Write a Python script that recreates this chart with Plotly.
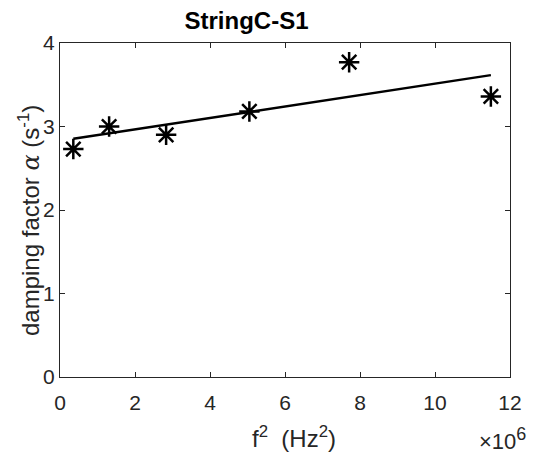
import numpy as np
import plotly.graph_objects as go

# data (x in Hz^2)
f2 = [0.355e6, 1.31e6, 2.83e6, 5.05e6, 7.71e6, 11.49e6]
alpha = [2.73, 3.00, 2.90, 3.18, 3.77, 3.36]
x_ticks = [0, 2e6, 4e6, 6e6, 8e6, 10e6, 12e6]
x_tick_labels = ["0", "2", "4", "6", "8", "10", "12"]
y_ticks = [0, 1, 2, 3, 4]

coef = np.polyfit(np.array(f2), np.array(alpha), 1)
fit_x = [min(f2), max(f2)]
fit_y = list(np.polyval(coef, fit_x))

FONT = "Liberation Sans, Arial, Helvetica, sans-serif"
AX = "#262626"
OFF = 8  # page body margin
W, H = 543 - OFF, 454 - OFF
PL, PR, PT, PB = 60, 510, 43.3, 376.7  # plot area in window pixels


def px_x(v):
    return (v - PL) / (PR - PL)


def px_y(v):
    return (PB - v) / (PB - PT)


fig = go.Figure()
fig.add_trace(go.Scatter(x=fit_x, y=fit_y, mode="lines",
                         line=dict(color="black", width=2.5), showlegend=False))
fig.add_trace(go.Scatter(x=f2, y=alpha, mode="markers",
                         marker=dict(symbol="asterisk-open", size=17, color="black",
                                     line=dict(color="black", width=2.5)),
                         showlegend=False))

fig.update_layout(
    width=W, height=H,
    margin=dict(l=PL - OFF, r=W - (PR - OFF), t=PT - OFF, b=H - (PB - OFF), autoexpand=False),
    paper_bgcolor="white", plot_bgcolor="white",
    font=dict(family=FONT, color=AX, size=21),
    title=dict(text="<b>StringC-S1</b>", font=dict(family=FONT, size=24, color="black"),
               x=(246.5 - OFF) / W, xanchor="center", xref="container",
               y=1 - (21 - OFF) / H, yanchor="middle", yref="container"),
    xaxis=dict(range=[0, 12e6], tickvals=x_ticks, ticktext=x_tick_labels,
               showline=True, linecolor=AX, linewidth=1, mirror="ticks",
               ticks="inside", ticklen=5, tickcolor=AX, showgrid=False, zeroline=False,
               tickfont=dict(size=21, color=AX), ticklabelstandoff=7),
    yaxis=dict(range=[0, 4], tickvals=y_ticks,
               showline=True, linecolor=AX, linewidth=1, mirror="ticks",
               ticks="inside", ticklen=5, tickcolor=AX, showgrid=False, zeroline=False,
               tickfont=dict(size=21, color=AX)),
)
fig.add_annotation(text="f<sup>2</sup>  (Hz<sup>2</sup>)", xref="paper", yref="paper",
                   x=px_x(294), y=px_y(437), xanchor="center", yanchor="middle",
                   showarrow=False, font=dict(size=24, color=AX))
fig.add_annotation(text="damping factor <span style=\"font-family:'DejaVu Serif'\"><i>α</i></span> (s<sup>-1</sup>)",
                   xref="paper", yref="paper", textangle=-90,
                   x=px_x(29), y=px_y(221), xanchor="center", yanchor="middle",
                   showarrow=False, font=dict(size=24, color=AX))
fig.add_annotation(text="×10<sup><span style=\"font-size:18px\">6</span></sup>", xref="paper", yref="paper",
                   x=px_x(528), y=px_y(439), xanchor="right", yanchor="middle",
                   showarrow=False, font=dict(size=22, color=AX))

fig.write_html("out.html")
